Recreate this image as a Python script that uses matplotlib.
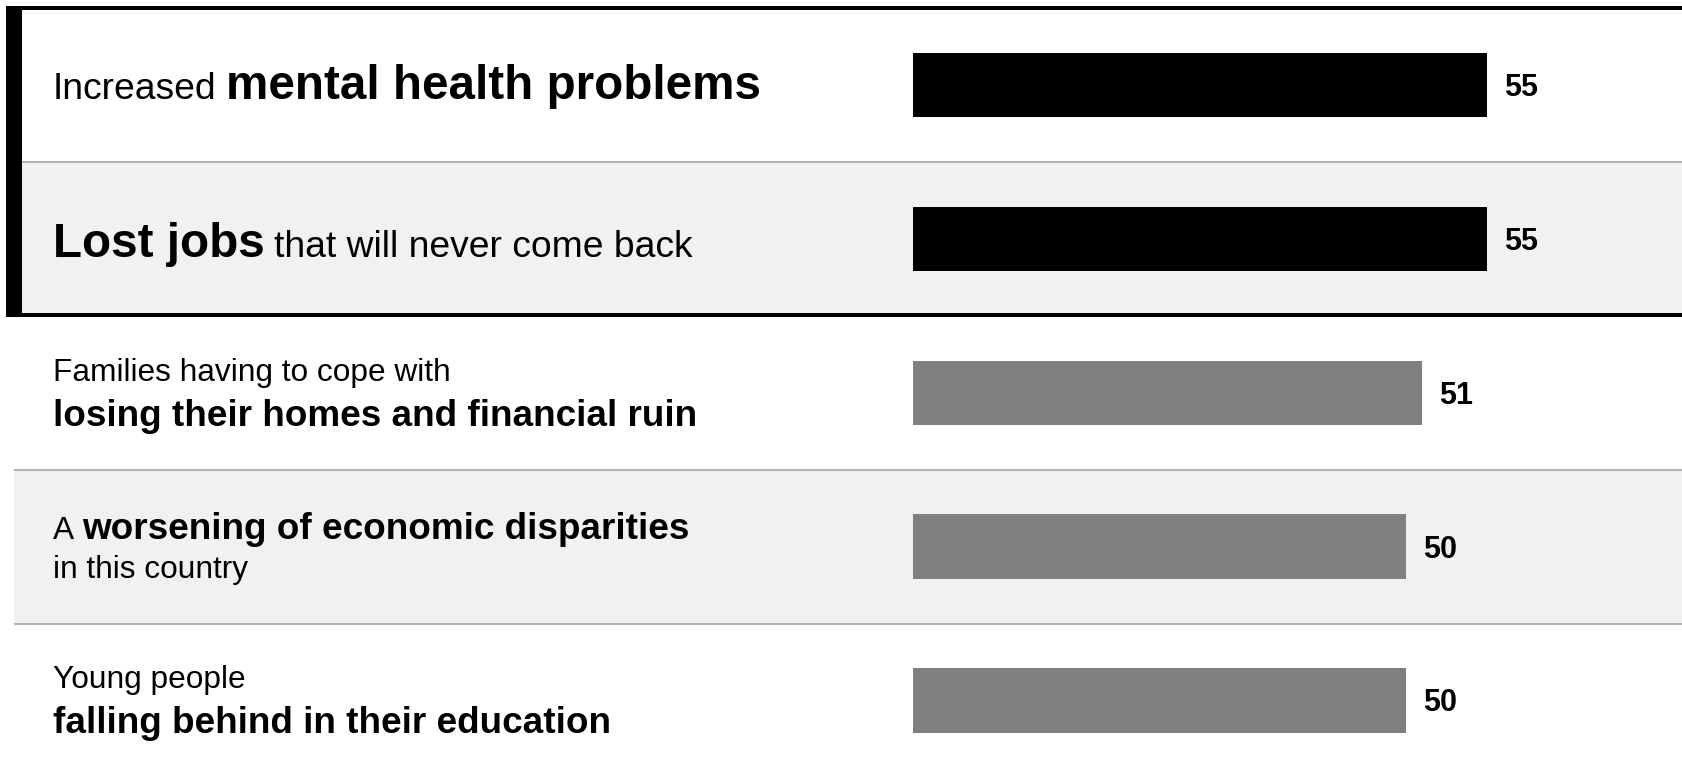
import re

import matplotlib
matplotlib.use('Agg')
import matplotlib.pyplot as plt
from matplotlib.patches import Rectangle

plt.rcParams['font.family'] = ['Liberation Sans', 'DejaVu Sans']

# survey answers, top to bottom; **...** marks the emphasised words
labels = [
    'Increased **mental health problems**',
    '**Lost jobs** that will never come back',
    'Families having to cope with\n**losing their homes and financial ruin**',
    'A **worsening of economic disparities**\nin this country',
    'Young people\n**falling behind in their education**',
]
values = [55, 55, 51, 50, 50]
highlighted = [True, True, False, False, False]

# canvas is laid out in pixels
W, H = 1683, 775
ROW0, ROW_H = 85.2, 153.8
BAR_LEFT, PX_PER_UNIT, X_MIN = 913, 16.34, 19.85
TEXT_X = 53
# baseline offsets of each label line from the row centre
line_offsets = [[14.1], [17.6], [-11.8, 33.5], [-7.2, 31.8], [-12.2, 32.8]]

GREY_BG = '#f1f1f1'
RULE = '#b3b3b3'


def row_center(i):
    return ROW0 + ROW_H * i


fig = plt.figure(figsize=(W / 100, H / 100), dpi=100)
bg = fig.add_axes([0, 0, 1, 1])
bg.set_xlim(0, W)
bg.set_ylim(H, 0)
bg.axis('off')

n = len(values)
box_bottom = row_center(1) + ROW_H / 2

# zebra rows and thin rules
for i in range(n):
    top = row_center(i) - ROW_H / 2
    left = 22 if highlighted[i] else 14
    if i % 2 == 1:
        bg.add_patch(Rectangle((left, top), W - left, ROW_H, color=GREY_BG, lw=0, zorder=0))
    if i > 0 and not (highlighted[i - 1] and not highlighted[i]):
        bg.plot([left, W], [top, top], color=RULE, lw=1.5, solid_capstyle='butt', zorder=1)

# frame around the highlighted rows
bg.add_patch(Rectangle((6, 6), W - 6, 3.5, color='black', lw=0, zorder=3))
bg.add_patch(Rectangle((6, box_bottom - 2.5), W - 6, 4, color='black', lw=0, zorder=3))
bg.add_patch(Rectangle((6, 6), 16, box_bottom + 1.5 - 6, color='black', lw=0, zorder=3))

# row labels, built run by run so regular and bold words share a baseline
renderer = fig.canvas.get_renderer()
for i, label in enumerate(labels):
    if highlighted[i]:
        sizes = {'normal': 26.8, 'bold': 34.3}
    else:
        sizes = {'normal': 22.8, 'bold': 26.6}
    for line, off in zip(label.split('\n'), line_offsets[i]):
        y = row_center(i) + off
        x = TEXT_X
        parts = re.split(r'\*\*', line)
        for k, part in enumerate(parts):
            if not part:
                continue
            weight = 'bold' if k % 2 == 1 else 'normal'
            size = sizes[weight]
            space = 0.26 * size / 0.72
            if part.startswith(' '):
                x += space
            t = bg.text(x, y, part.strip(), fontsize=size, fontweight=weight,
                        ha='left', va='baseline', color='black', zorder=4)
            x = t.get_window_extent(renderer).x1
            if part.endswith(' '):
                x += space

# bars
bx = fig.add_axes([BAR_LEFT / W, 0, 1 - BAR_LEFT / W, 1])
bx.set_xlim(X_MIN, X_MIN + (W - BAR_LEFT) / PX_PER_UNIT)
bx.set_ylim((H - ROW0) / ROW_H, -ROW0 / ROW_H)
bx.axis('off')

colors = ['black' if h else '#808080' for h in highlighted]
bx.barh(range(n), values, height=64.5 / ROW_H, color=colors, linewidth=0, zorder=2)
for i, v in enumerate(values):
    bx.annotate(f'{v}', xy=(v, i), xytext=(17, -10.9), textcoords='offset pixels',
                fontsize=22, fontweight='bold', ha='left', va='baseline', color='black')

fig.savefig('out.png', dpi=100)
